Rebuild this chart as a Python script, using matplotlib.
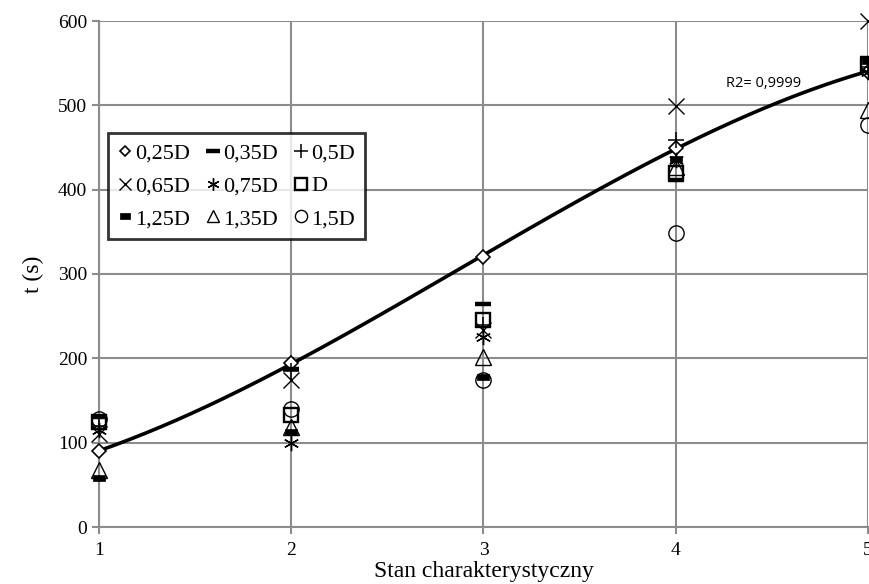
import numpy as np
import matplotlib
matplotlib.use("Agg")
import matplotlib.pyplot as plt

x = [1, 2, 3, 4, 5]
labels = ["0,25D", "0,35D", "0,5D", "0,65D", "0,75D", "D", "1,25D", "1,35D", "1,5D"]
s025 = [90, 195, 320, 450, 540]
s035 = [130, 187, 264, 412, 556]
s05 = [120, 185, 240, 459, 545]
s065 = [110, 174, 234, 499, 600]
s075 = [115, 100, 225, 435, 540]
sD = [125, 133, 246, 420, 548]
s125 = [58, 113, 178, 436, 552]
s135 = [68, 118, 202, 427, 495]
s15 = [128, 140, 174, 349, 477]
r2_text = "R2= 0,9999"
xticks = [1, 2, 3, 4, 5]
yticks = [0, 100, 200, 300, 400, 500, 600]

plt.rcParams['font.family'] = ['Liberation Serif', 'DejaVu Serif']

fig = plt.figure(figsize=(8.7, 5.84), dpi=100)
ax = fig.add_axes([99/870, 1-527/584, (868-99)/870, (527-21)/584])

grid_c = '#8c8c8c'
series = [s025, s035, s05, s065, s075, sD, s125, s135, s15]
rect = [(-1, -0.55), (1, -0.55), (1, 0.55), (-1, 0.55), (-1, -0.55)]
styles = {
    "0,25D": dict(marker='D', ms=7, mfc='white', mec='black', mew=1.2),
    "0,35D": dict(marker='_', ms=12, mec='black', mew=3.2),
    "0,5D": dict(marker='+', ms=12, mec='black', mew=1.1),
    "0,65D": dict(marker='x', ms=11, mec='black', mew=1.0),
    "0,75D": dict(marker=(6, 2, 0), ms=11, mec='black', mew=1.0),
    "D": dict(marker='s', ms=10, mfc='none', mec='black', mew=1.7),
    "1,25D": dict(marker=rect, ms=9, mfc='black', mec='black', mew=0.5),
    "1,35D": dict(marker='^', ms=11, mfc='none', mec='black', mew=1.0),
    "1,5D": dict(marker='o', ms=11, mfc='none', mec='black', mew=1.0),
}
handles = []
for vals, lab in zip(series, labels):
    h, = ax.plot(x, vals, linestyle='none', label=lab, clip_on=False, zorder=4, **styles[lab])
    handles.append(h)

coef = np.polyfit(x, s025, 3)
xs = np.linspace(1, 5, 200)
ax.plot(xs, np.polyval(coef, xs), color='black', lw=2.6, zorder=3, clip_on=False)

ax.text(4.26, 526, r2_text, fontsize=10.5, family=['Open Sans', 'DejaVu Sans'], ha='left', va='center')

ax.set_xlim(1, 5)
ax.set_ylim(0, 600)
ax.set_xticks(xticks)
ax.set_yticks(yticks)
ax.grid(True, color=grid_c, lw=1.5)
for s in ['top', 'right']:
    ax.spines[s].set_visible(False)
for s in ['left', 'bottom']:
    ax.spines[s].set_color(grid_c)
    ax.spines[s].set_linewidth(1.5)
ax.tick_params(axis='both', color=grid_c, width=1.5, length=5, labelsize=14)
ax.tick_params(axis='x', pad=6)
ax.set_xlabel("Stan charakterystyczny", fontsize=17, labelpad=1)
ax.set_ylabel("t (s)", fontsize=17, labelpad=10)

order = [0, 3, 6, 1, 4, 7, 2, 5, 8]
leg = ax.legend([handles[i] for i in order], [labels[i] for i in order],
                ncol=3, loc='upper left', bbox_to_anchor=(9/769, (527-133)/506),
                fontsize=16, frameon=True, fancybox=False, handlelength=0.6, handletextpad=0.15,
                columnspacing=0.75, borderpad=0.45, labelspacing=0.55, borderaxespad=0, markerscale=0.8)
leg.get_frame().set_edgecolor('black')
leg.get_frame().set_linewidth(2)
leg.set_zorder(5)

fig.savefig("out.png", dpi=100)
